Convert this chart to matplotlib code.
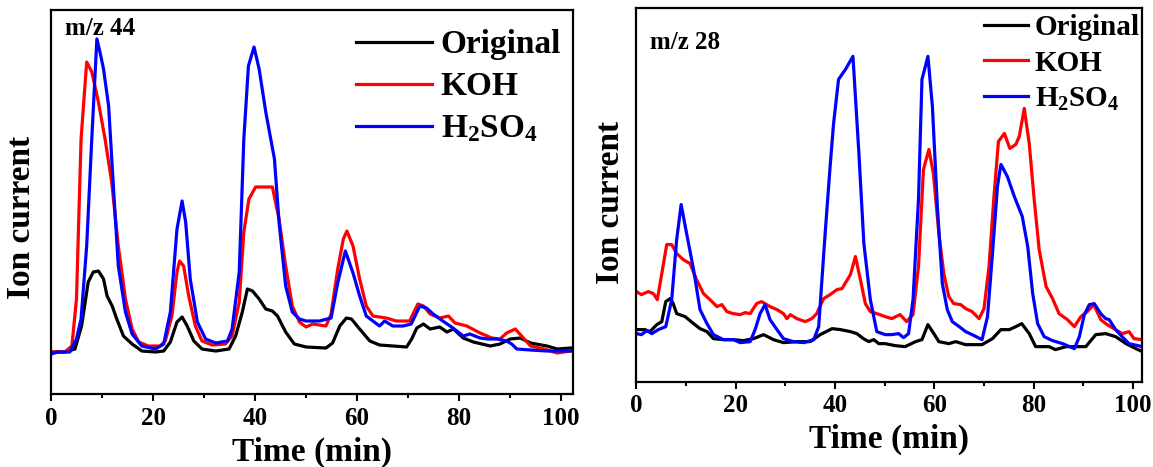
import matplotlib.pyplot as plt
from matplotlib.ticker import MultipleLocator

plt.rcParams['font.family'] = ['Liberation Serif', 'DejaVu Serif']
plt.rcParams['font.weight'] = 'bold'
plt.rcParams['mathtext.fontset'] = 'custom'
plt.rcParams['mathtext.rm'] = 'Liberation Serif:bold'
plt.rcParams['mathtext.it'] = 'Liberation Serif:bold'
plt.rcParams['mathtext.bf'] = 'Liberation Serif:bold'

labels = ['Original', 'KOH', 'H$_2$SO$_4$']
colors = ['#000000', '#ff0000', '#0000ff']
xticks = [0, 20, 40, 60, 80, 100]

# m/z 44 (time in min, ion current in a.u.)
t44_orig = [0, 2.7, 4.7, 6, 7.3, 8.3, 9.3, 10.3, 11, 12, 12.9, 14.2, 15.9, 17.8, 20.5, 22.1, 23.4,
            24.7, 25.7, 26.7, 28, 29.6, 32.3, 34.9, 36.2, 37.5, 38.5, 39.5, 40.8, 42.1, 43.4, 44.4,
            46, 47.7, 50, 53.9, 55.2, 56.6, 57.9, 58.9, 60.5, 62.5, 64.4, 69.7, 70.7, 71.7, 73,
            74.3, 76.2, 77.6, 78.9, 80.8, 82.8, 86.1, 88, 90, 92, 94, 97.2, 99.2, 101.8]
i44_orig = [42, 42, 45, 68, 112, 122, 123, 115, 98, 88, 75, 58, 50, 43, 42, 43, 52,
            72, 77, 68, 53, 45, 43, 45, 58, 82, 105, 103, 95, 85, 83, 78,
            62, 50, 47, 46, 51, 68, 76, 75, 65, 53, 49, 47, 55, 66, 70,
            65, 67, 62, 65, 56, 52, 48, 50, 55, 56, 51, 48, 45, 46]

t44_koh = [0, 2.7, 4.1, 5, 5.9, 7, 8, 9.3, 10.6, 11.9, 13.2, 14.6, 15.9, 17.2, 19.1, 21.4, 22.4,
           23.7, 24.7, 25.2, 26, 27, 28.3, 29.6, 31.6, 34.2, 35.5, 36.9, 37.8, 38.8, 40.1, 42.1,
           43.4, 44.7, 46, 47.3, 48.7, 50, 51.3, 53.9, 54.9, 56.2, 57.3, 58, 59.2, 60.5, 61.8,
           63.1, 65.7, 67.7, 69, 70.3, 71.9, 73, 74.3, 76.2, 77.9, 79.2, 81.5, 84.1, 86.4, 88,
           89.3, 91, 92.6, 94, 96.6, 99.2, 101.8]
i44_koh = [42, 42, 48, 95, 255, 332, 322, 292, 255, 212, 148, 95, 65, 52, 48, 48, 53,
           78, 122, 133, 128, 98, 68, 53, 49, 50, 58, 92, 162, 195, 207, 207,
           207, 175, 128, 88, 72, 67, 70, 68, 80, 125, 155, 163, 148, 115, 88,
           78, 76, 73, 73, 73, 90, 88, 80, 76, 78, 71, 68, 61, 56, 55,
           61, 65, 56, 48, 45, 41, 43]

t44_h2so4 = [0, 1.4, 3.7, 5, 5.9, 7, 8, 9, 9.6, 10.3, 11.3, 12.3, 13.2, 14.6, 15.9, 17.8, 20.5,
             22.1, 23.4, 24.7, 25.7, 26.4, 27.3, 28.7, 30.3, 32.3, 34.6, 35.5, 36.9, 37.8, 38.7,
             39.8, 40.8, 42.1, 43.8, 44.7, 46, 47.3, 48.7, 50, 52.6, 54.9, 56.2, 57.7, 59.2,
             60.5, 61.8, 63.1, 64.4, 65.4, 67, 69, 70.6, 72.3, 73.6, 74.9, 76.8, 78.8, 80.8,
             82.1, 84.1, 85.7, 87.4, 89.3, 90.3, 91.3, 94, 97.2, 101.8]
i44_h2so4 = [40, 42, 42, 55, 75, 148, 255, 355, 342, 325, 288, 202, 128, 82, 60, 48, 45,
             50, 82, 165, 193, 172, 115, 72, 55, 51, 53, 65, 122, 255, 328,
             347, 325, 282, 235, 172, 108, 82, 75, 73, 73, 76, 111, 143, 121,
             98, 78, 73, 68, 73, 68, 68, 70, 88, 86, 80, 73, 66, 58,
             60, 56, 55, 55, 53, 50, 45, 44, 43, 43]

# m/z 28
t28_orig = [0, 1.7, 2.7, 4.1, 5.1, 5.9, 6.8, 7.4, 8.1, 9.8, 11.5, 12.8, 14.2, 15.5, 17.5, 19.5,
            21.5, 23.6, 25.6, 27.6, 29.6, 32.3, 35, 37, 39.4, 41.1, 43.1, 44.4, 45.7, 46.8, 47.8,
            48.8, 50.1, 52.1, 54.1, 56.2, 57.5, 58.7, 59.9, 60.9, 62.9, 64.3, 66.3, 69.6, 71.7,
            73.4, 75.1, 76.4, 77.6, 79.1, 80.4, 83.1, 84.4, 86.5, 90.5, 92.5, 94.5, 96.5, 98.6,
            100.6, 101.9]
i28_orig = [52, 52, 50, 57, 60, 80, 83, 78, 68, 65, 58, 53, 50, 43, 42, 42,
            41, 43, 47, 42, 39, 40, 40, 47, 53, 52, 50, 48, 43, 40, 42,
            38, 38, 36, 35, 40, 42, 57, 48, 40, 38, 40, 37, 37, 43,
            52, 52, 55, 58, 48, 35, 35, 32, 35, 35, 47, 48, 45, 38,
            33, 30]

t28_koh = [0, 1, 2.4, 3.4, 4.2, 5.1, 6.1, 7.1, 8.1, 9.4, 10.8, 12.1, 13.5, 14.8, 16.2, 17.2,
           18.2, 19.5, 20.9, 21.9, 22.9, 24.2, 25.2, 26.9, 28.3, 29.6, 30.3, 31, 32.3, 34, 35.3,
           36.3, 37.7, 39, 40.4, 41.4, 43.1, 44.1, 45.1, 46.1, 47.1, 48.4, 50.1, 51.4, 53.1,
           54.4, 55.7, 56.8, 57.8, 58.9, 59.8, 60.9, 61.9, 62.9, 63.9, 65.3, 66.3, 67.6, 69,
           70, 71, 72, 72.9, 74.1, 75.2, 76.4, 77.1, 78.1, 79.1, 80.1, 81.1, 82.5, 83.8, 85.1,
           86.8, 88.2, 89.5, 90.8, 92.1, 93.5, 94.8, 96.5, 97.8, 99.2, 100.2, 101.9]
i28_koh = [90, 87, 90, 88, 82, 108, 137, 137, 128, 122, 118, 102, 88, 82, 75, 77,
           70, 68, 67, 69, 68, 78, 80, 75, 72, 68, 63, 67, 63, 60, 63,
           68, 83, 87, 92, 93, 107, 125, 102, 78, 70, 68, 65, 63, 67,
           60, 67, 115, 212, 232, 208, 148, 108, 85, 78, 77, 73, 70, 63,
           73, 115, 185, 240, 248, 233, 237, 245, 273, 238, 182, 132, 95, 83, 68,
           62, 55, 65, 70, 77, 62, 57, 52, 48, 50, 43, 42]

t28_h2so4 = [0, 1, 2.1, 3.1, 4.4, 5.9, 7.1, 8.1, 9, 10.1, 11.5, 12.8, 14.2, 15.5, 17.5, 19.5,
             20.9, 22.9, 23.9, 24.9, 25.9, 26.9, 28.3, 29.6, 31.6, 33.7, 35.7, 36.7, 38, 39,
             39.7, 40.7, 42.1, 43.6, 44.8, 45.8, 47.1, 48.4, 50.1, 51.4, 52.8, 53.8, 54.8, 55.7,
             56.8, 57.5, 58.7, 59.6, 60.6, 61.6, 62.6, 63.6, 65, 66.3, 67.6, 69.6, 70.7, 71.7,
             72.7, 73.4, 74.7, 76.1, 77.7, 78.8, 79.8, 80.8, 82.1, 83.8, 85.8, 88.2, 89.2, 90.2,
             91.2, 92.2, 93.5, 94.5, 95.2, 96.5, 97.8, 99.2, 101.9]
i28_h2so4 = [48, 47, 51, 48, 52, 55, 82, 142, 177, 148, 112, 72, 58, 47, 42, 42,
             39, 40, 52, 68, 77, 62, 52, 43, 40, 39, 42, 55, 148, 215,
             258, 302, 312, 325, 228, 138, 82, 50, 47, 47, 48, 44, 48, 82,
             182, 302, 325, 275, 175, 98, 72, 60, 55, 50, 47, 42, 65, 128,
             195, 217, 205, 185, 165, 135, 88, 58, 45, 41, 38, 33, 45, 67,
             77, 78, 68, 63, 62, 52, 45, 38, 35]

fig = plt.figure(figsize=(11.53, 4.67), dpi=100)
ax1 = fig.add_axes([0.0442, 0.1563, 0.4527, 0.8223])
ax2 = fig.add_axes([0.552, 0.1827, 0.4384, 0.7995])

panels = [
    (ax1, [(t44_orig, i44_orig), (t44_koh, i44_koh), (t44_h2so4, i44_h2so4)], 102.3, 384, (-0.026, 0.46)),
    (ax2, [(t28_orig, i28_orig), (t28_koh, i28_koh), (t28_h2so4, i28_h2so4)], 101.8, 373, (-0.021, 0.48)),
]

for ax, series, xmax, ymax, ylab_pos in panels:
    for (t, y), c, lab in zip(series, colors, labels):
        ax.plot(t, y, '-', color=c, linewidth=2.3, label=lab)
    ax.set_xlim(0, xmax)
    ax.set_ylim(0, ymax)
    ax.set_xticks(xticks)
    ax.xaxis.set_minor_locator(MultipleLocator(10))
    ax.set_yticks([])
    ax.tick_params(axis='x', which='major', direction='out', length=5, width=1.5,
                   labelsize=18, pad=4, top=False)
    ax.tick_params(axis='x', which='minor', direction='out', length=3, width=1.5, top=False)
    for s in ax.spines.values():
        s.set_linewidth(1.6)
    ax.set_xlabel('Time (min)', fontsize=24, fontweight='bold', labelpad=5)
    ax.set_ylabel('Ion current', fontsize=24, fontweight='bold')
    ax.yaxis.set_label_coords(*ylab_pos)

ax1.text(0.027, 0.982, 'm/z 44', transform=ax1.transAxes, fontsize=18, fontweight='bold',
         va='top', ha='left')
ax2.text(0.027, 0.94, 'm/z 28', transform=ax2.transAxes, fontsize=18, fontweight='bold',
         va='top', ha='left')

ax1.legend(loc='upper right', bbox_to_anchor=(0.977, 0.95), frameon=False, fontsize=24,
           handlelength=2.3, handletextpad=0.25, labelspacing=0.33, borderaxespad=0, borderpad=0)
ax2.legend(loc='upper right', bbox_to_anchor=(0.996, 0.985), frameon=False, fontsize=21,
           handlelength=1.5, handletextpad=0.25, labelspacing=0.3, borderaxespad=0, borderpad=0)

plt.savefig('out.png', dpi=100)
plt.close()
